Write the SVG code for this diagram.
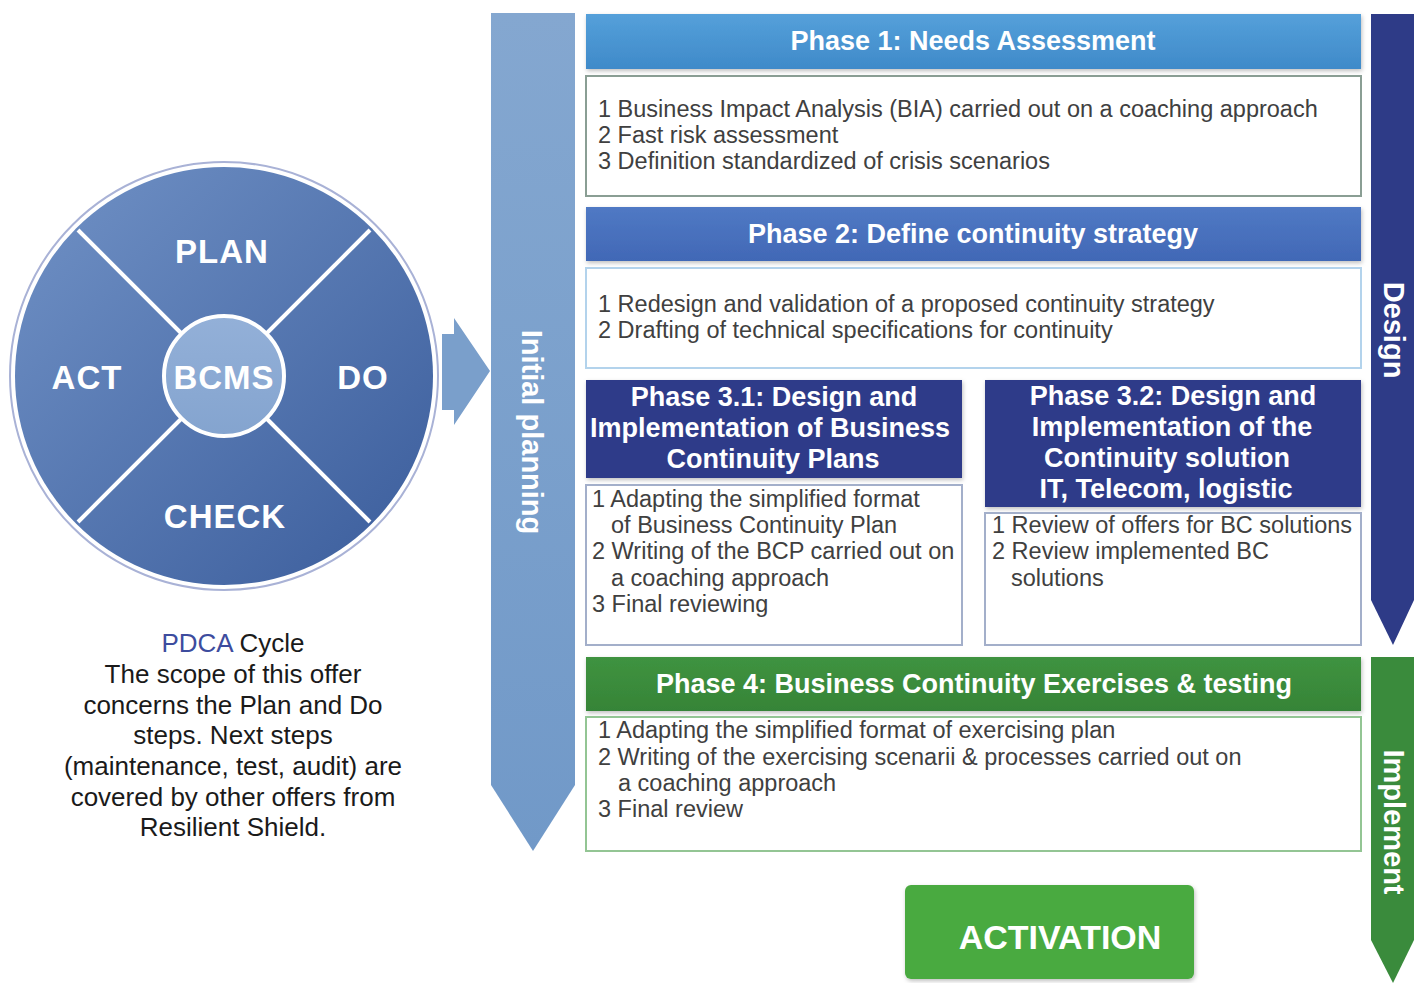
<svg xmlns="http://www.w3.org/2000/svg" width="1420" height="983" viewBox="0 0 1420 983">
<defs>
<linearGradient id="gDisk" x1="0" y1="0" x2="1" y2="1">
<stop offset="0" stop-color="#7192c6"/>
<stop offset="1" stop-color="#3a5c9b"/>
</linearGradient>
<linearGradient id="gInner" x1="0" y1="0" x2="0" y2="1">
<stop offset="0" stop-color="#93b0d8"/>
<stop offset="1" stop-color="#84a4cf"/>
</linearGradient>
<linearGradient id="gBar" x1="0" y1="0" x2="0" y2="1">
<stop offset="0" stop-color="#84a7d0"/>
<stop offset="1" stop-color="#7199c8"/>
</linearGradient>
<linearGradient id="gP1" x1="0" y1="0" x2="0" y2="1">
<stop offset="0" stop-color="#55a0da"/>
<stop offset="1" stop-color="#3f8ac9"/>
</linearGradient>
<linearGradient id="gP2" x1="0" y1="0" x2="0" y2="1">
<stop offset="0" stop-color="#5079c4"/>
<stop offset="1" stop-color="#4168b6"/>
</linearGradient>
<linearGradient id="gP4" x1="0" y1="0" x2="0" y2="1">
<stop offset="0" stop-color="#3f9340"/>
<stop offset="1" stop-color="#368437"/>
</linearGradient>
<filter id="shadow" x="-10%" y="-10%" width="120%" height="130%">
<feDropShadow dx="1" dy="2" stdDeviation="2" flood-color="#000" flood-opacity="0.25"/>
</filter>
<style>
.hdr{font-family:"Liberation Sans",Arial,sans-serif;font-weight:bold;font-size:27px;fill:#fff;text-anchor:middle}
.body{font-family:"Liberation Sans",Arial,sans-serif;font-size:23.5px;fill:#404040}
.pdca{font-family:"Liberation Sans",Arial,sans-serif;font-weight:bold;font-size:33px;fill:#fff;text-anchor:middle;letter-spacing:1px}
.vert{font-family:"Liberation Sans",Arial,sans-serif;font-weight:bold;font-size:29px;fill:#fff;text-anchor:middle}
.note{font-family:"Liberation Sans",Arial,sans-serif;font-size:26px;fill:#1a1a1a;text-anchor:middle}
.box{fill:#fff;stroke-width:2}
.div{stroke:#fff;stroke-width:4}
</style>
</defs>
<rect x="0" y="0" width="1420" height="983" fill="#ffffff"/>

<g id="pdca-circle">
<circle cx="224" cy="376" r="214" fill="#fff" stroke="#a9b2d6" stroke-width="2"/>
<circle cx="224" cy="376" r="209" fill="url(#gDisk)"/>
<line class="div" x1="78" y1="230" x2="182" y2="334"/>
<line class="div" x1="370" y1="230" x2="266" y2="334"/>
<line class="div" x1="78" y1="522" x2="182" y2="418"/>
<line class="div" x1="370" y1="522" x2="266" y2="418"/>
<circle cx="224" cy="376" r="60" fill="url(#gInner)" stroke="#fff" stroke-width="4"/>
<text class="pdca" x="222" y="263">PLAN</text>
<text class="pdca" x="87" y="389">ACT</text>
<text class="pdca" x="363" y="389">DO</text>
<text class="pdca" x="225" y="528">CHECK</text>
<text class="pdca" x="224" y="389">BCMS</text>
</g>

<g id="connectors">
<polygon points="442,334 454,334 454,318 490,371 454,425 454,410 442,410" fill="#7a9fcb"/>
</g>

<g id="initial-planning">
<polygon points="491,13 575,13 575,785 533,851 491,785" fill="url(#gBar)"/>
<text class="vert" transform="translate(522,432) rotate(90)">Initial planning</text>
</g>

<g id="phase1">
<rect x="586" y="14" width="775" height="55" fill="url(#gP1)" filter="url(#shadow)"/>
<text class="hdr" x="973" y="50">Phase 1: Needs Assessment</text>
<rect class="box" x="586" y="76" width="775" height="120" stroke="#8a9e94"/>
<text class="body" x="598" y="117">1 Business Impact Analysis (BIA) carried out on a coaching approach</text>
<text class="body" x="598" y="143">2 Fast risk assessment</text>
<text class="body" x="598" y="169">3 Definition standardized of crisis scenarios</text>
</g>

<g id="phase2">
<rect x="586" y="207" width="775" height="54" fill="url(#gP2)" filter="url(#shadow)"/>
<text class="hdr" x="973" y="243">Phase 2: Define continuity strategy</text>
<rect class="box" x="586" y="268" width="775" height="100" stroke="#b3d3ec"/>
<text class="body" x="598" y="312">1 Redesign and validation of a proposed continuity strategy</text>
<text class="body" x="598" y="338">2 Drafting of technical specifications for continuity</text>
</g>

<g id="phase3-1">
<rect x="586" y="380" width="376" height="98" fill="#2e3b89" filter="url(#shadow)"/>
<text class="hdr" x="774" y="406">Phase 3.1: Design and</text>
<text class="hdr" x="770" y="437">Implementation of Business</text>
<text class="hdr" x="773" y="468">Continuity Plans</text>
<rect class="box" x="586" y="485" width="376" height="160" stroke="#a3afca"/>
<text class="body" x="592" y="507">1 Adapting the simplified format</text>
<text class="body" x="611" y="533">of Business Continuity Plan</text>
<text class="body" x="592" y="559">2 Writing of the BCP carried out on</text>
<text class="body" x="611" y="586">a coaching approach</text>
<text class="body" x="592" y="612">3 Final reviewing</text>
</g>

<g id="phase3-2">
<rect x="985" y="380" width="376" height="127" fill="#2e3b89" filter="url(#shadow)"/>
<text class="hdr" x="1173" y="405">Phase 3.2: Design and</text>
<text class="hdr" x="1172" y="436">Implementation of the</text>
<text class="hdr" x="1167" y="467">Continuity solution</text>
<text class="hdr" x="1166" y="498">IT, Telecom, logistic</text>
<rect class="box" x="985" y="513" width="376" height="132" stroke="#a3afca"/>
<text class="body" x="992" y="533">1 Review of offers for BC solutions</text>
<text class="body" x="992" y="559">2 Review implemented BC</text>
<text class="body" x="1011" y="586">solutions</text>
</g>

<g id="design">
<polygon points="1371,14 1414,14 1414,600 1393,645 1371,600" fill="#2e3b87"/>
<text class="vert" transform="translate(1384,330) rotate(90)">Design</text>
</g>

<g id="phase4">
<rect x="586" y="657" width="775" height="54" fill="url(#gP4)" filter="url(#shadow)"/>
<text class="hdr" x="974" y="693">Phase 4: Business Continuity Exercises &amp; testing</text>
<rect class="box" x="586" y="717" width="775" height="134" stroke="#93c594"/>
<text class="body" x="598" y="738">1 Adapting the simplified format of exercising plan</text>
<text class="body" x="598" y="765">2 Writing of the exercising scenarii &amp; processes carried out on</text>
<text class="body" x="618" y="791">a coaching approach</text>
<text class="body" x="598" y="817">3 Final review</text>
</g>

<g id="implement">
<polygon points="1371,657 1414,657 1414,940 1393,983 1371,940" fill="#3a8b3c"/>
<text class="vert" transform="translate(1384,822) rotate(90)">Implement</text>
</g>

<g id="activation">
<rect x="905" y="885" width="289" height="94" rx="6" fill="#4aaa3f" filter="url(#shadow)"/>
<text x="1060" y="949" font-family="Liberation Sans, Arial, sans-serif" font-weight="bold" font-size="34" fill="#fff" text-anchor="middle">ACTIVATION</text>
</g>

<g id="pdca-note">
<text class="note" x="233" y="652"><tspan fill="#3d4c9e">PDCA</tspan> Cycle</text>
<text class="note" x="233" y="683">The scope of this offer</text>
<text class="note" x="233" y="714">concerns the Plan and Do</text>
<text class="note" x="233" y="744">steps. Next steps</text>
<text class="note" x="233" y="775">(maintenance, test, audit) are</text>
<text class="note" x="233" y="806">covered by other offers from</text>
<text class="note" x="233" y="836">Resilient Shield.</text>
</g>
</svg>
